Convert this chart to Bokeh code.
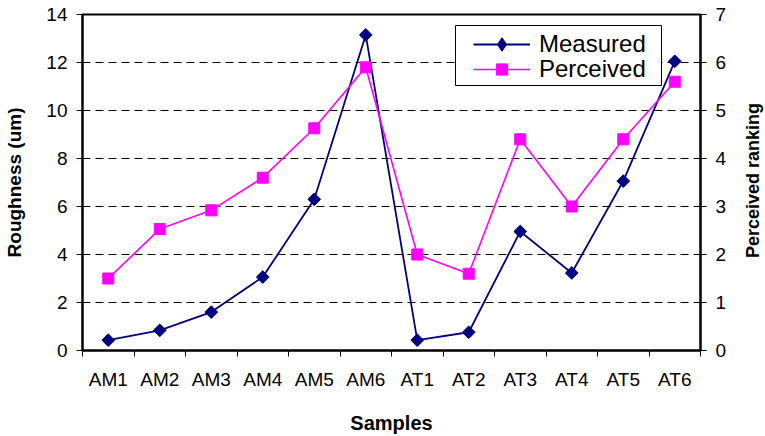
import math
from bokeh.plotting import figure
from bokeh.layouts import row
from bokeh.models import (Range1d, LinearAxis, FixedTicker, CustomJSTickFormatter,
                          Legend, LegendItem, Label, BoxAnnotation)
from bokeh.embed import file_html
from bokeh.resources import INLINE

samples = ["AM1", "AM2", "AM3", "AM4", "AM5", "AM6",
           "AT1", "AT2", "AT3", "AT4", "AT5", "AT6"]
measured = [0.43, 0.84, 1.6, 3.06, 6.3, 13.15, 0.43, 0.76, 4.96, 3.23, 7.06, 12.05]
perceived = [1.5, 2.53, 2.92, 3.6, 4.63, 5.9, 2.0, 1.6, 4.4, 3.0, 4.4, 5.6]
left_ticks = [0, 2, 4, 6, 8, 10, 12, 14]
right_ticks = [0, 1, 2, 3, 4, 5, 6, 7]

FONT = "Liberation Sans"
NAVY = "#000080"
MAGENTA = "#FF00FF"

xs = [i + 0.5 for i in range(len(samples))]

p = figure(width=735, height=436, output_backend="svg", toolbar_location=None,
           x_range=Range1d(0, len(samples)), y_range=Range1d(0, 14),
           min_border_left=82, min_border_right=35, min_border_top=14,
           min_border_bottom=85)
p.extra_y_ranges = {"right": Range1d(0, 7)}
p.background_fill_color = "white"
p.border_fill_color = "white"
p.outline_line_color = "black"
p.outline_line_width = 2
p.outline_line_alpha = 1

# grid
p.xgrid.visible = False
p.ygrid.ticker = FixedTicker(ticks=left_ticks)
p.ygrid.grid_line_color = "black"
p.ygrid.grid_line_dash = "8 5"
p.ygrid.grid_line_width = 1

# x axis
xa = p.xaxis[0]
xa.ticker = FixedTicker(ticks=xs, minor_ticks=list(range(len(samples) + 1)))
xa.formatter = CustomJSTickFormatter(args=dict(labels=samples),
                                     code="return labels[Math.floor(tick)] || '';")
xa.major_tick_line_color = None
xa.major_tick_out = 0
xa.major_tick_in = 0
xa.minor_tick_line_color = "black"
xa.minor_tick_out = 6
xa.minor_tick_in = 0
xa.minor_tick_line_width = 1
xa.axis_line_color = "black"
xa.axis_line_width = 2
xa.major_label_text_font = FONT
xa.major_label_text_font_size = "19px"
xa.major_label_text_color = "black"
xa.major_label_standoff = 12
xa.axis_label = "Samples"
xa.axis_label_text_font = FONT
xa.axis_label_text_font_size = "20px"
xa.axis_label_text_font_style = "bold"
xa.axis_label_text_color = "black"
xa.axis_label_standoff = 19

# left y axis
ya = p.yaxis[0]
ya.ticker = FixedTicker(ticks=left_ticks)
ya.minor_tick_line_color = None
ya.major_tick_out = 6
ya.major_tick_in = 0
ya.major_tick_line_color = "black"
ya.axis_line_color = "black"
ya.axis_line_width = 2
ya.major_label_text_font = FONT
ya.major_label_text_font_size = "19px"
ya.major_label_text_color = "black"
ya.major_label_standoff = 9
ya.axis_label = "Roughness (um)"
ya.axis_label_text_font = FONT
ya.axis_label_text_font_size = "19px"
ya.axis_label_text_font_style = "bold"
ya.axis_label_text_color = "black"
ya.axis_label_standoff = 18

# right y axis
ra = LinearAxis(y_range_name="right", ticker=FixedTicker(ticks=right_ticks))
ra.minor_tick_line_color = None
ra.major_tick_out = 6
ra.major_tick_in = 0
ra.major_tick_line_color = "black"
ra.axis_line_color = "black"
ra.axis_line_width = 2
ra.major_label_text_font = FONT
ra.major_label_text_font_size = "19px"
ra.major_label_text_color = "black"
ra.major_label_standoff = 9
p.add_layout(ra, "right")

# series
ml = p.line(xs, measured, line_color=NAVY, line_width=1.8)
ms = p.scatter(xs, measured, marker="square", angle=math.pi / 4, size=9,
               fill_color=NAVY, line_color=NAVY)
pl = p.line(xs, perceived, line_color=MAGENTA, line_width=1.6, y_range_name="right")
ps = p.scatter(xs, perceived, marker="square", size=11, fill_color=MAGENTA,
               line_color=MAGENTA, y_range_name="right")
# legend-only diamond glyph (placed at NaN, never visible in the plot)
ld = p.scatter([float("nan")], [float("nan")], marker="diamond",
               fill_color=NAVY, line_color=NAVY)

# legend frame
box = BoxAnnotation(left=373, right=579, top=325, bottom=265,
                    left_units="screen", right_units="screen",
                    top_units="screen", bottom_units="screen",
                    fill_color="white", fill_alpha=1,
                    line_color="black", line_width=1, line_alpha=1)
p.add_layout(box)


def make_legend(item, loc, gh):
    lg = Legend(items=[item], location=loc)
    lg.label_text_font = FONT
    lg.label_text_font_size = "24px"
    lg.label_text_color = "black"
    lg.glyph_width = 57
    lg.glyph_height = gh
    lg.label_height = 20
    lg.label_standoff = 9
    lg.spacing = 0
    lg.padding = 0
    lg.margin = 0
    lg.border_line_color = None
    lg.background_fill_alpha = 0
    return lg


leg1 = make_legend(LegendItem(label="Measured", renderers=[ml, ld]), (391, 289), 34)
leg2 = make_legend(LegendItem(label="Perceived", renderers=[pl, ps]), (391, 267), 28)
p.add_layout(leg1, "center")
p.add_layout(leg2, "center")

# narrow strip on the right carrying the right axis title
p2 = figure(width=30, height=436, output_backend="svg", toolbar_location=None,
            x_range=Range1d(0, 1), y_range=Range1d(0, 1),
            x_axis_location=None, y_axis_location=None, min_border=0)
p2.grid.visible = False
p2.outline_line_color = None
p2.background_fill_color = "white"
p2.border_fill_color = "white"
right_title = Label(x=17, y=170, x_units="screen", y_units="screen",
                    text="Perceived ranking", angle=math.pi / 2,
                    text_align="center", text_baseline="middle",
                    text_font=FONT, text_font_size="18px", text_font_style="bold",
                    text_color="black")
p2.add_layout(right_title)

layout = row(p, p2, spacing=0)
open("out.html", "w").write(file_html(layout, INLINE))
